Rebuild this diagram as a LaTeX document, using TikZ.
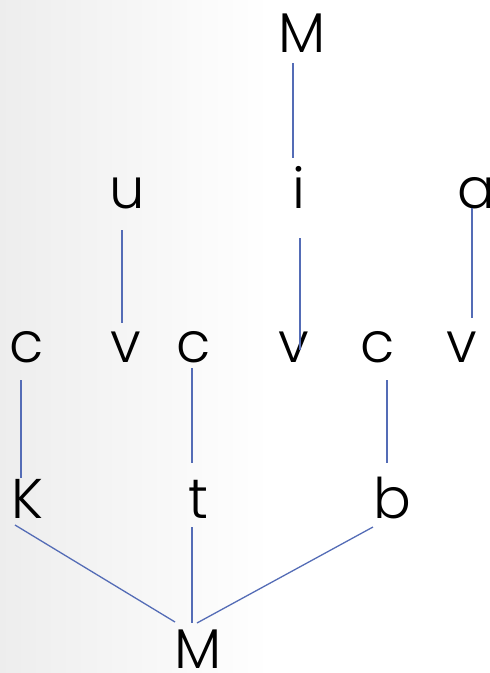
\documentclass[tikz,border=0pt]{standalone}
\usepackage{fontspec}
\setmainfont{Poppins}[UprightFont={* Light}]
\usepackage{tikz}
\usetikzlibrary{calc}

\definecolor{linkblue}{RGB}{84,108,182}
\tikzset{
    letter/.style = {anchor=base, inner sep=0pt, font=\fontsize{56}{60}\selectfont},
    link/.style   = {draw=linkblue, line width=1.3pt}
}

\begin{document}
\begin{tikzpicture}[x=1pt, y=-1pt]
    \useasboundingbox (0,0) rectangle (490,673);
    \shade[left color=black!7, right color=white] (0,0) rectangle (270,673);

    % top
    \node[letter] (Mtop) at (302,52) {M};

    % vowels
    \node[letter] (u) at (127,208) {u};
    \node[letter] (i) at (299,208) {i};
    \node[letter] (a) at (476,208) {a};

    % skeleton
    \node[letter] (c1) at (27,362)  {c};
    \node[letter] (v1) at (126,362) {v};
    \node[letter] (c2) at (194,362) {c};
    \node[letter] (v2) at (294,362) {v};
    \node[letter] (c3) at (378,362) {c};
    \node[letter] (v3) at (462,362) {v};

    % consonants
    \node[letter] (K) at (27,518)  {K};
    \node[letter] (t) at (198,518) {t};
    \node[letter] (b) at (392,518) {b};

    % bottom
    \node[letter] (Mbot) at (198,668) {M};

    \draw[link] ([shift={(-9,11)}]Mtop.base) -- ([shift={(-6,-50)}]i.base);
    \draw[link] ([shift={(-5,22)}]u.base) -- ([shift={(-4,-39)}]v1.base);
    \draw[link] ([shift={(1,30)}]i.base) -- ([shift={(6,-12)}]v2.base);
    \draw[link] ([shift={(-4,0)}]a.base) -- ([shift={(10,-44)}]v3.base);

    \draw[link] ([shift={(-6,18)}]c1.base) -- ([shift={(-6,-40)}]K.base);
    \draw[link] ([shift={(-2,6)}]c2.base) -- ([shift={(-6,-55)}]t.base);
    \draw[link] ([shift={(9,18)}]c3.base) -- ([shift={(-5,-55)}]b.base);

    \draw[link] ([shift={(-12,7)}]K.base) -- ([shift={(-23,-46)}]Mbot.base);
    \draw[link] ([shift={(-6,9)}]t.base) -- ([shift={(-6,-45)}]Mbot.base);
    \draw[link] ([shift={(-19,9)}]b.base) -- ([shift={(-1,-45)}]Mbot.base);
\end{tikzpicture}
\end{document}
